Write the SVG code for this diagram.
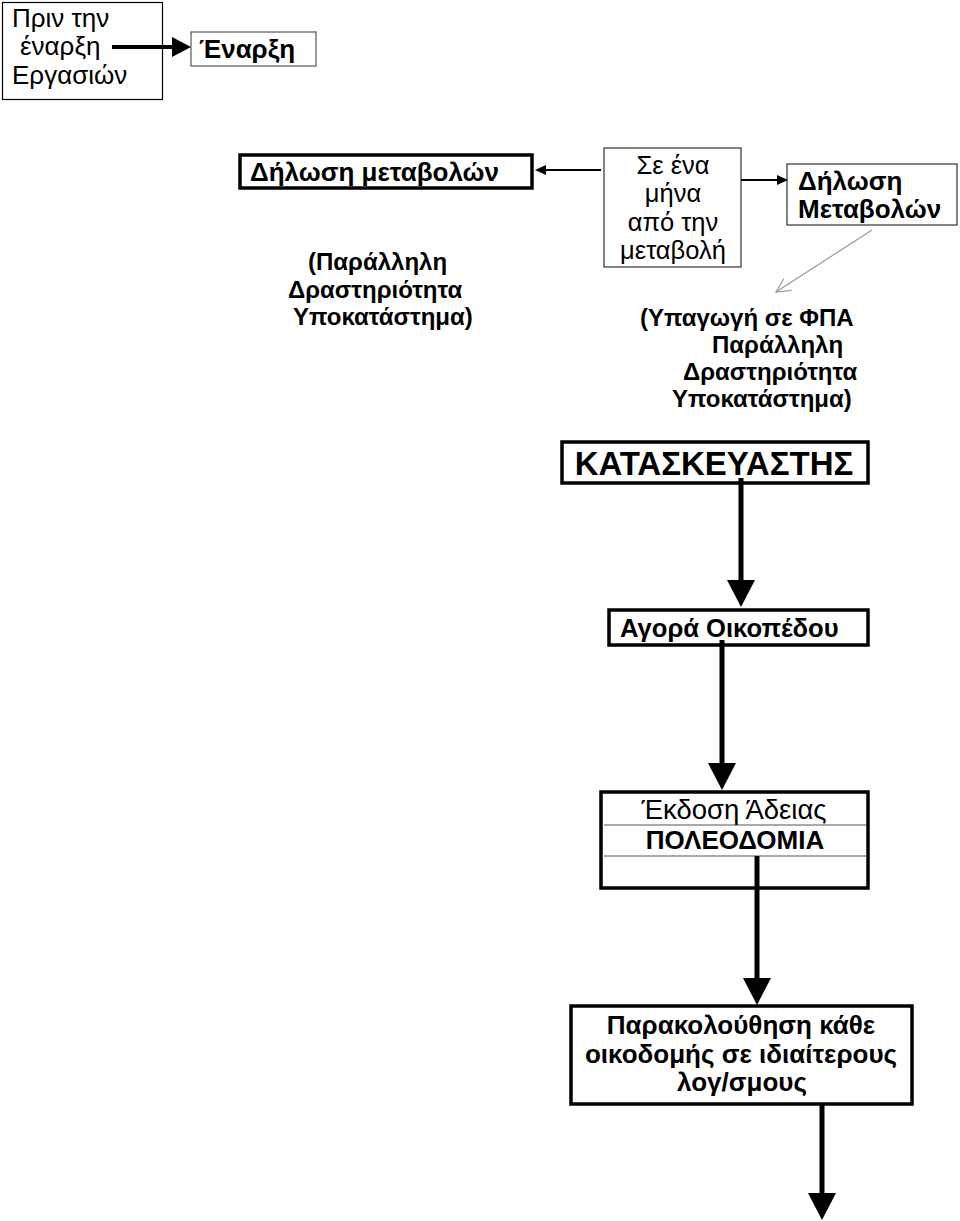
<svg xmlns="http://www.w3.org/2000/svg" width="960" height="1221" viewBox="0 0 960 1221">
<style>
text{font-family:"Liberation Sans",Arial,sans-serif;fill:#000;font-size:24px}
.b{font-weight:bold}
.thin{fill:#fff;stroke:#000;stroke-width:1.2}
.thick{fill:#fff;stroke:#000;stroke-width:3.5}
.c{text-anchor:middle}
.f26{font-size:26px}
.sep{stroke:#555;stroke-width:1}
.big{stroke:#000;stroke-width:5;fill:none}
.med{stroke:#000;stroke-width:4;fill:none}
.sm{stroke:#000;stroke-width:2;fill:none}
.gr{stroke:#999;stroke-width:1.2;fill:none}
</style>
<defs>
<marker id="hBig" markerUnits="userSpaceOnUse" markerWidth="30" markerHeight="30" refX="0" refY="14" orient="auto" overflow="visible"><path d="M0,0 L27,14 L0,28 Z" fill="#000"/></marker>
<marker id="hMed" markerUnits="userSpaceOnUse" markerWidth="22" markerHeight="22" refX="0" refY="10" orient="auto" overflow="visible"><path d="M0,0 L19,10 L0,20 Z" fill="#000"/></marker>
<marker id="hSm" markerUnits="userSpaceOnUse" markerWidth="14" markerHeight="12" refX="0" refY="5" orient="auto" overflow="visible"><path d="M0,0 L11,5 L0,10 Z" fill="#000"/></marker>
<marker id="hOpen" markerUnits="userSpaceOnUse" markerWidth="20" markerHeight="20" refX="0" refY="0" orient="auto" overflow="visible"><path d="M-14,-7 L0,0 L-14,7" fill="none" stroke="#999" stroke-width="1.2"/></marker>
</defs>

<g id="before">
<rect class="thin" x="2.5" y="2.5" width="160" height="97"/>
<text class="f26" x="12" y="27">Πριν την</text>
<text class="f26" x="20" y="55">έναρξη</text>
<text class="f26" x="12" y="84">Εργασιών</text>
</g>

<g id="start">
<rect class="thin" x="191" y="32" width="125" height="34" style="stroke:#555"/>
<text class="b f26" x="199" y="58">Έναρξη</text>
</g>

<g id="declaration-left">
<rect class="thick" x="240" y="155" width="292" height="33"/>
<text class="b f26" x="250" y="181">Δήλωση μεταβολών</text>
</g>

<g id="note-left">
<text class="b" x="308" y="270">(Παράλληλη</text>
<text class="b" x="288" y="298">Δραστηριότητα</text>
<text class="b" x="293" y="325">Υποκατάστημα)</text>
</g>

<g id="one-month">
<rect class="thin" x="604" y="148" width="137" height="119" style="stroke:#333"/>
<text class="c" x="673" y="174" style="font-size:25.5px">Σε ένα</text>
<text class="c" x="673" y="202" style="font-size:25.5px">μήνα</text>
<text class="c" x="673" y="231" style="font-size:25.5px">από την</text>
<text class="c" x="673" y="259" style="font-size:25.5px">μεταβολή</text>
</g>

<g id="declaration-right">
<rect class="thin" x="787" y="164" width="170" height="61" style="stroke:#333"/>
<text class="b f26" x="798" y="190">Δήλωση</text>
<text class="b f26" x="798" y="218">Μεταβολών</text>
</g>

<g id="note-right">
<text class="b" x="640" y="326">(Υπαγωγή σε ΦΠΑ</text>
<text class="b" x="712" y="353">Παράλληλη</text>
<text class="b" x="683" y="380">Δραστηριότητα</text>
<text class="b" x="672" y="407">Υποκατάστημα)</text>
</g>

<g id="constructor">
<rect class="thick" x="562" y="442" width="306" height="41"/>
<text class="b c" x="714" y="475" style="font-size:33px">ΚΑΤΑΣΚΕΥΑΣΤΗΣ</text>
</g>

<g id="land">
<rect class="thick" x="609" y="610" width="259" height="35"/>
<text class="b" x="620" y="637" style="font-size:25.6px">Αγορά Οικοπέδου</text>
</g>

<g id="permit">
<rect class="thick" x="601" y="792" width="267" height="96"/>
<line class="sep" x1="604" y1="825" x2="866" y2="825"/>
<line class="sep" x1="604" y1="856" x2="866" y2="856"/>
<text class="c" x="734" y="819" style="font-size:27.5px">Έκδοση Άδειας</text>
<text class="b c f26" x="735" y="849">ΠΟΛΕΟΔΟΜΙΑ</text>
</g>

<g id="monitoring">
<rect class="thick" x="571" y="1006" width="341" height="98"/>
<text class="b c f26" x="741" y="1034">Παρακολούθηση κάθε</text>
<text class="b c f26" x="741" y="1063">οικοδομής σε ιδιαίτερους</text>
<text class="b c f26" x="742" y="1091">λογ/σμους</text>
</g>

<g id="connectors">
<line class="med" x1="112" y1="47" x2="172" y2="47" marker-end="url(#hMed)"/>
<line class="sm" x1="601" y1="170" x2="546" y2="170" marker-end="url(#hSm)"/>
<line class="sm" x1="741" y1="180" x2="777" y2="180" marker-end="url(#hSm)"/>
<line class="gr" x1="872" y1="230" x2="776" y2="292" marker-end="url(#hOpen)"/>
<line class="big" x1="741" y1="478" x2="741" y2="580" marker-end="url(#hBig)"/>
<line class="big" x1="722" y1="640" x2="722" y2="763" marker-end="url(#hBig)"/>
<line class="big" x1="757" y1="856" x2="757" y2="978" marker-end="url(#hBig)"/>
<line class="big" x1="822" y1="1105" x2="822" y2="1193" marker-end="url(#hBig)"/>
</g>
</svg>
